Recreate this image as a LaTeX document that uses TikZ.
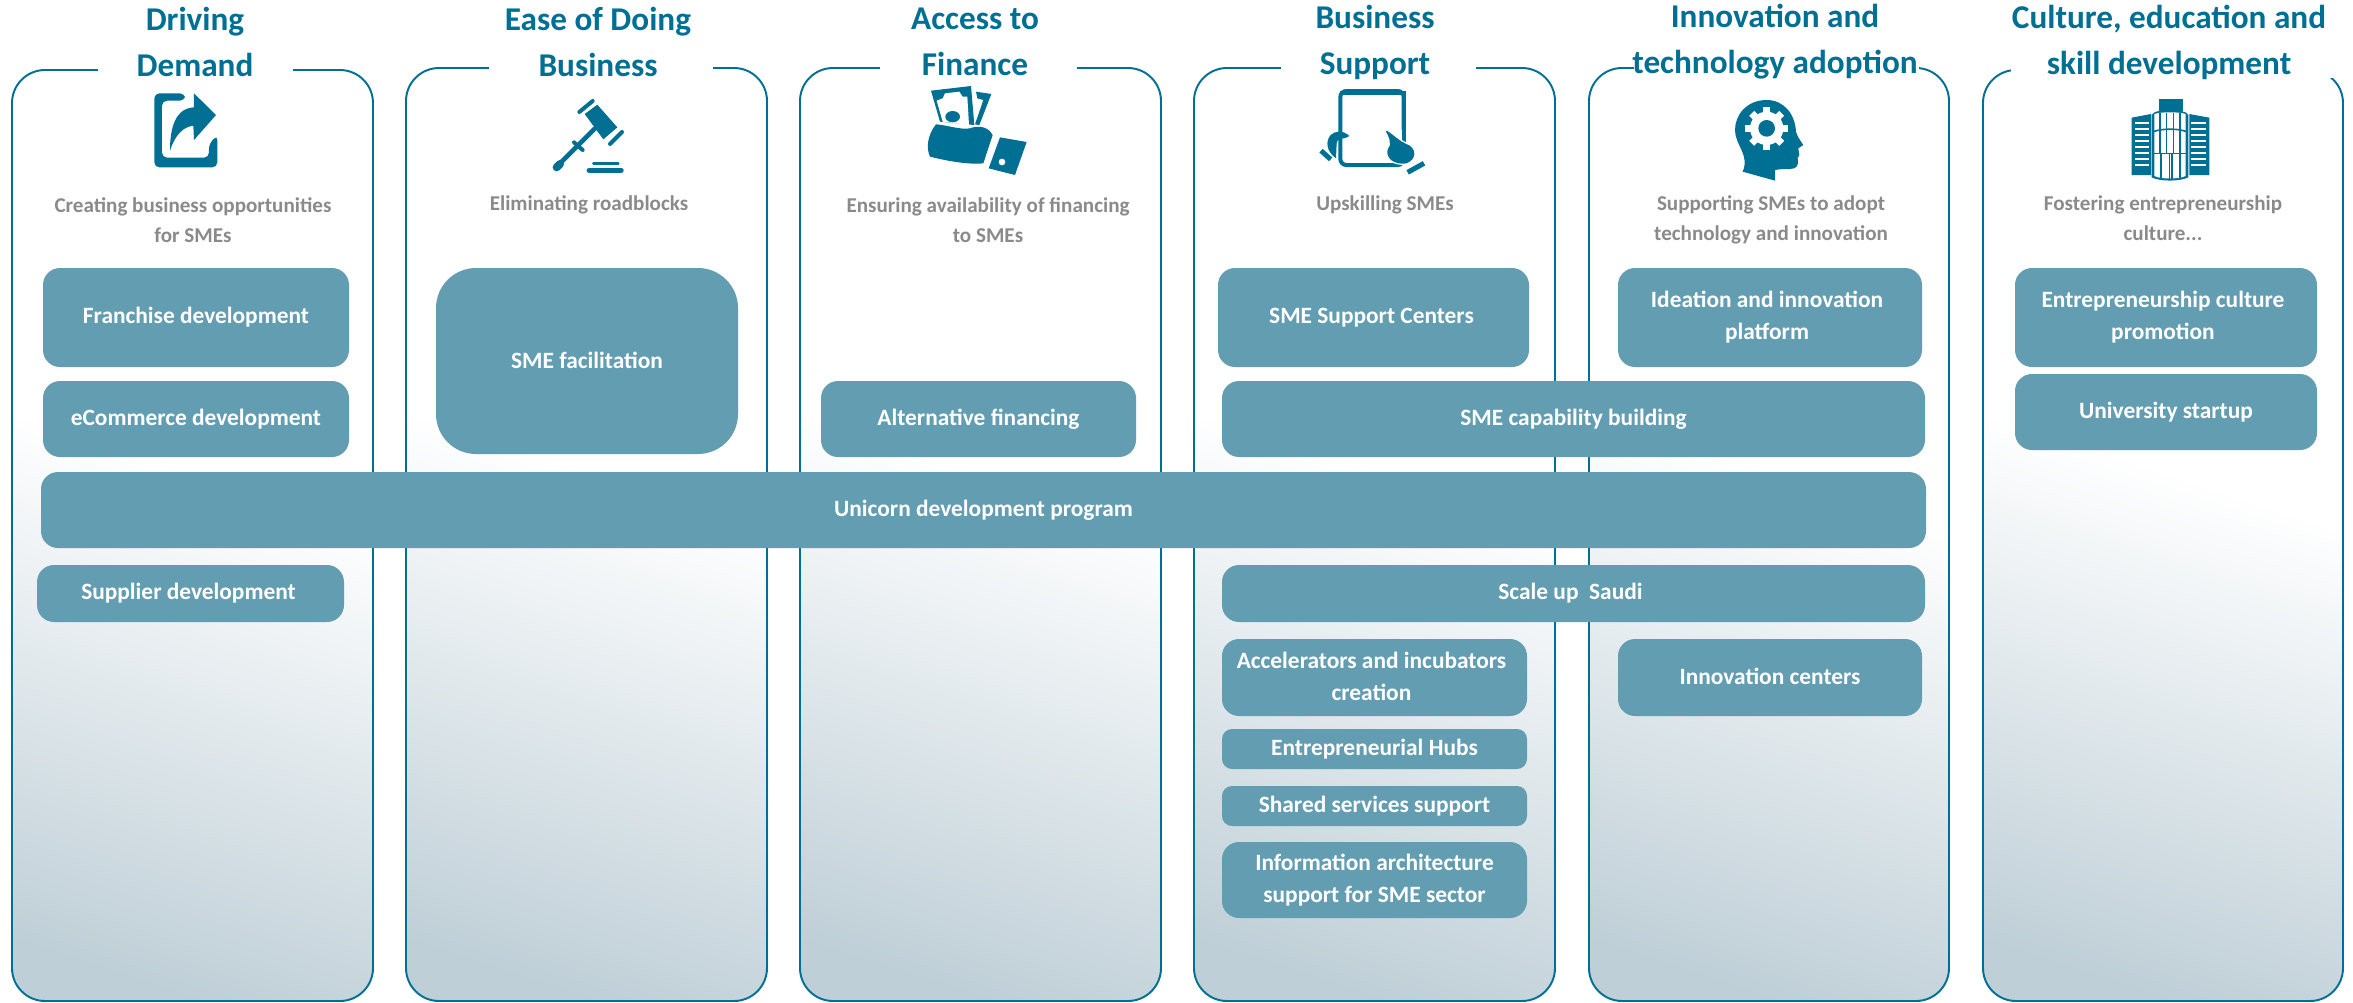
\documentclass[tikz,border=0pt]{standalone}
\usepackage{amsmath}
\usepackage{xcolor}
\usepackage{fontspec}
\setmainfont{Carlito}

\definecolor{icontone}{HTML}{006F94}
\definecolor{boxtone}{HTML}{639DB1}
\definecolor{subtone}{HTML}{8A8A8A}
\definecolor{panelgrey}{HTML}{BFCFD7}
\pgfdeclareverticalshading{panelfade}{100bp}{color(0bp)=(panelgrey); color(22bp)=(panelgrey); color(54bp)=(white); color(100bp)=(white)}

\tikzset{
	panelbox/.style={draw=icontone, line width=0.55pt, rounded corners=0.33cm, shading=panelfade, shading angle=-18},
	itembox/.style={fill=boxtone, rounded corners=0.17cm},
	itemtext/.style={text=white, align=center, font=\fontsize{6.65}{9.1}\selectfont\bfseries},
	headtext/.style={text=icontone, align=center, font=\fontsize{9.45}{13.1}\selectfont\bfseries},
	subtext/.style={text=subtone, align=center, font=\fontsize{6}{8.5}\selectfont\bfseries},
	iconfill/.style={fill=icontone},
	iconline/.style={draw=icontone, line cap=round},
	iconcut/.style={draw=white, line cap=butt}
}

\begin{document}
\begin{tikzpicture}[x=0.01cm, y=-0.01cm]
	\useasboundingbox (0,0) rectangle (2353,1002);

	% panels
	\draw [panelbox] (12,70) rectangle (373,1001);
	\draw [panelbox] (406,68) rectangle (767,1001);
	\draw [panelbox] (800,68) rectangle (1161,1001);
	\draw [panelbox] (1194,68) rectangle (1555,1001);
	\draw [panelbox] (1589,68) rectangle (1949,1001);
	\draw [panelbox] (1983,70) rectangle (2343,1001);

	\fill [white] (98,60) rectangle (293,80);
	\fill [white] (489,60) rectangle (713,80);
	\fill [white] (880,60) rectangle (1077,80);
	\fill [white] (1281,60) rectangle (1476,80);
	\fill [white] (1634,60) rectangle (1919,80);
	\fill [white] (2011,60) rectangle (2335,78);

	% headings
	\node [headtext] (headdemand) at (195,42) {Driving\\Demand};
	\node [headtext] (headease) at (598,42) {Ease of Doing\\Business};
	\node [headtext] (headfinance) at (975,42) {Access to\\Finance};
	\node [headtext] (headsupport) at (1375,42) {Business\\Support};
	\node [headtext] (headtech) at (1775,42) {Innovation and\\technology adoption};
	\node [headtext] (headculture) at (2169,42) {Culture, education and\\skill development};

	% captions
	\node [subtext] (subdemand) at (193,220) {Creating business opportunities\\for SMEs};
	\node [subtext] (subease) at (589,205) {Eliminating roadblocks};
	\node [subtext] (subfinance) at (988,220) {Ensuring availability of financing\\to SMEs};
	\node [subtext] (subsupport) at (1385,205) {Upskilling SMEs};
	\node [subtext] (subtech) at (1771,220) {Supporting SMEs to adopt\\technology and innovation};
	\node [subtext] (subculture) at (2163,218) {Fostering entrepreneurship\\culture...};

	% boxes
	\fill [itembox] (43,268) rectangle (349,367) node[pos=.5, itemtext] (franchise) {Franchise development};
	\fill [itembox] (43,381) rectangle (349,457) node[pos=.5, itemtext] (ecommerce) {eCommerce development};
	\fill [itembox] (37,565) rectangle (344,622) node[pos=.5, itemtext, xshift=-0.02cm] (supplier) {Supplier development};
	\fill [itembox, rounded corners=0.4cm] (436,268) rectangle (738,454) node[pos=.5, itemtext, yshift=0.01cm] (facilitation) {SME facilitation};
	\fill [itembox] (821,381) rectangle (1136,457) node[pos=.5, itemtext] (financing) {Alternative financing};
	\fill [itembox] (1218,268) rectangle (1529,367) node[pos=.5, itemtext, xshift=-0.02cm] (centers) {SME Support Centers};
	\fill [itembox] (1222,381) rectangle (1925,457) node[pos=.5, itemtext] (capability) {SME capability building};
	\fill [itembox] (41,472) rectangle (1926,548) node[pos=.5, itemtext] (unicorn) {Unicorn development program};
	\fill [itembox] (1222,565) rectangle (1925,622) node[pos=.5, itemtext, xshift=-0.03cm] (scaleup) {Scale up\ \ Saudi};
	\fill [itembox] (1222,639) rectangle (1527,716) node[pos=.5, itemtext, yshift=0.01cm, xshift=-0.03cm] (accelerators) {Accelerators and incubators\\creation};
	\fill [itembox, rounded corners=0.1cm] (1222,729) rectangle (1527,769) node[pos=.5, itemtext] (hubs) {Entrepreneurial Hubs};
	\fill [itembox, rounded corners=0.1cm] (1222,786) rectangle (1527,826) node[pos=.5, itemtext] (shared) {Shared services support};
	\fill [itembox] (1222,842) rectangle (1527,918) node[pos=.5, itemtext] (information) {Information architecture\\support for SME sector};
	\fill [itembox] (1618,268) rectangle (1922,367) node[pos=.5, itemtext, xshift=-0.03cm] (ideation) {Ideation and innovation\\platform};
	\fill [itembox] (1618,639) rectangle (1922,716) node[pos=.5, itemtext, yshift=0.01cm] (innovation) {Innovation centers};
	\fill [itembox] (2015,268) rectangle (2317,367) node[pos=.5, itemtext, xshift=-0.03cm] (culture) {Entrepreneurship culture\\promotion};
	\fill [itembox] (2015,374) rectangle (2317,450) node[pos=.5, itemtext] (startup) {University startup};

	% share icon
	\begin{scope}[shift={(140,85)}, scale=.3333]
		\fill [iconfill, rounded corners=0.05cm] (135,25) -- (43,25) -- (43,247) -- (232,247) -- (232,150) -- (207,177) -- (207,218) -- (66,218) -- (66,47) -- (135,47) -- cycle;
		\fill [iconfill] (162,25) -- (228,90) -- (162,165) -- (160,122) .. controls (130,125) and (105,150) .. (90,197) .. controls (90,130) and (105,70) .. (162,67) -- cycle;
	\end{scope}

	% gavel icon
	\begin{scope}[shift={(540,90)}, scale=.3333]
		\fill [iconfill] (134,72) -- (172,44) -- (232,112) -- (190,148) -- cycle;
		\draw [iconline, line width=0.04cm] (118,66) -- (158,33);
		\draw [iconline, line width=0.04cm] (210,162) -- (246,126);
		\draw [iconline, line width=0.045cm] (165,115) -- (55,225);
		\draw [iconline, line width=0.04cm] (102,157) -- (128,180);
		\draw [iconline, line width=0.08cm] (50,232) -- (60,222);
		\draw [iconline, line width=0.025cm] (160,221) -- (235,221);
		\draw [iconline, line width=0.055cm] (148,241) -- (243,241);
	\end{scope}

	% money icon
	\begin{scope}[shift={(920,80)}, scale=.3333]
		\fill [iconfill] (33,32) -- (153,18) -- (163,135) -- (60,125) -- cycle;
		\fill [white] (50,62) -- (68,55) -- (75,40) -- (118,35) -- (128,50) -- (142,50) -- (147,135) -- (68,125) -- cycle;
		\fill [iconfill] (98,110) circle[x radius=22, y radius=17];
		\fill [iconfill] (168,35) -- (214,42) -- (178,135) -- (165,133) -- (190,60) -- (172,55) -- cycle;
		\fill [iconfill] (48,133) .. controls (80,135) and (120,150) .. (150,145) .. controls (175,135) and (205,140) .. (218,165) -- (190,250) .. controls (140,255) and (70,240) .. (30,230) .. controls (18,205) and (22,165) .. (48,133) -- cycle;
		\fill [iconfill] (240,172) -- (320,186) -- (285,285) -- (206,265) -- cycle;
		\fill [white] (246,246) circle[radius=10];
	\end{scope}

	% tablet icon
	\begin{scope}[shift={(1310,80)}, scale=.3333]
		\draw [iconline, line width=0.04cm, rounded corners=0.06cm] (91,33) rectangle (281,255);
		\draw [iconline, line cap=butt, line width=0.04cm] (91,38) -- (281,38);
		\fill [white] (255,150) rectangle (290,240);
		\draw [iconline, line cap=butt, line width=0.04cm] (281,33) -- (281,185);
		\fill [iconfill] (118,168) .. controls (100,150) and (75,152) .. (62,165) .. controls (45,185) and (50,215) .. (78,235) -- (80,190) .. controls (82,170) and (105,180) .. (118,168) -- cycle;
		\draw [iconline, line cap=butt, line width=0.05cm] (33,212) -- (62,238);
		\draw [iconcut, fill=icontone, line width=0.012cm] (224,152) -- (232,150) .. controls (255,165) and (270,182) .. (290,190) .. controls (322,200) and (325,240) .. (290,252) .. controls (250,258) and (222,235) .. (232,205) .. controls (245,195) and (235,170) .. (224,152) -- cycle;
		\draw [iconline, line cap=butt, line width=0.05cm] (293,277) -- (342,250);
	\end{scope}

	% head icon
	\begin{scope}[shift={(1720,90)}, scale=.3333]
		\fill [iconfill] (68,245) -- (165,272) -- (165,240) .. controls (185,235) and (205,240) .. (222,235) .. controls (235,230) and (235,218) .. (233,205) -- (238,195) -- (235,175) -- (250,165) .. controls (240,150) and (232,140) .. (228,125) .. controls (225,70) and (190,30) .. (140,30) .. controls (80,30) and (45,75) .. (45,120) .. controls (45,165) and (90,195) .. (68,245) -- cycle;
		\draw [white, line width=0.07cm] (76,115) -- (204,115);
		\draw [white, line width=0.07cm] (140,51) -- (140,179);
		\draw [white, line width=0.07cm] (95,70) -- (185,160);
		\draw [white, line width=0.07cm] (95,160) -- (185,70);
		\fill [white] (140,115) circle[radius=50];
		\fill [iconfill] (140,115) circle[radius=25];
	\end{scope}

	% building icon
	\begin{scope}[shift={(2120,90)}, scale=.3333]
		\fill [iconfill] (118,27) rectangle (188,62);
		\fill [iconfill] (95,75) .. controls (100,55) and (200,55) .. (205,75) -- (205,262) .. controls (180,275) and (120,275) .. (95,262) -- cycle;
		\fill [white] (103,72) .. controls (125,65) and (175,65) .. (197,72) -- (197,258) .. controls (175,268) and (125,268) .. (103,258) -- cycle;
		\fill [iconfill] (35,83) -- (93,72) -- (93,255) -- (35,255) -- cycle;
		\fill [iconfill] (208,72) -- (268,83) -- (268,255) -- (208,255) -- cycle;
		\draw [white, line width=0.02cm] (45,100) -- (88,100) (45,118) -- (88,118) (45,136) -- (88,136) (45,154) -- (88,154) (45,172) -- (88,172) (45,190) -- (88,190) (45,208) -- (88,208) (45,226) -- (88,226);
		\draw [white, line width=0.02cm] (213,100) -- (258,100) (213,118) -- (258,118) (213,136) -- (258,136) (213,154) -- (258,154) (213,172) -- (258,172) (213,190) -- (258,190) (213,208) -- (258,208) (213,226) -- (258,226);
		\draw [icontone, line width=0.016cm] (120,70) -- (120,190) (140,68) -- (140,190) (160,68) -- (160,190) (180,70) -- (180,190);
		\draw [icontone, line width=0.016cm] (123,190) -- (123,265) (149,190) -- (149,268) (156,190) -- (156,268) (180,190) -- (180,265);
		\draw [icontone, line width=0.016cm] (100,125) .. controls (125,115) and (175,115) .. (200,125);
		\draw [icontone, line width=0.016cm] (100,190) -- (200,190);
	\end{scope}
\end{tikzpicture}
\end{document}
